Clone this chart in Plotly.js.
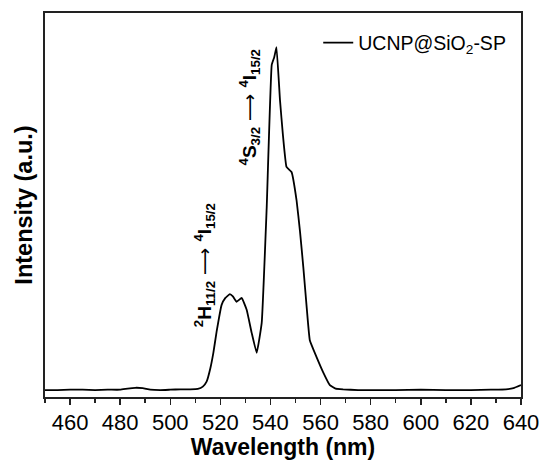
<!DOCTYPE html>
<html>
<head>
<meta charset="utf-8">
<script src="https://cdn.plot.ly/plotly-3.0.1.min.js"></script>
<style>html,body{margin:0;padding:0;background:#fff;}#chart{width:542px;height:460px;}</style>
</head>
<body>
<div id="chart"></div>
<script>
// Wavelength (nm)
const wavelength = [450, 455, 460, 465, 470, 475, 480, 483, 486, 489, 492, 496, 500, 504, 508, 511, 513, 514.5, 516, 517.2, 518.5, 520.5, 522, 523.8, 525, 526.5, 528.5, 530.5, 532.5, 534.5, 536.5, 538.5, 540.5, 541.5, 542.4, 543.8, 545, 546.4, 548.4, 550.4, 551.8, 553.1, 554.5, 555.7, 558.4, 561, 563.7, 566, 569, 575, 580, 590, 600, 610, 620, 628, 634, 637, 640];
// Intensity (a.u.)
const intensity = [0.018, 0.018, 0.019, 0.019, 0.018, 0.019, 0.019, 0.022, 0.024, 0.023, 0.019, 0.018, 0.019, 0.020, 0.020, 0.021, 0.027, 0.040, 0.075, 0.115, 0.170, 0.240, 0.258, 0.268, 0.262, 0.248, 0.258, 0.227, 0.167, 0.115, 0.193, 0.495, 0.865, 0.885, 0.911, 0.773, 0.680, 0.599, 0.586, 0.513, 0.430, 0.339, 0.230, 0.148, 0.104, 0.065, 0.031, 0.022, 0.020, 0.018, 0.018, 0.018, 0.019, 0.018, 0.018, 0.019, 0.020, 0.023, 0.031];
const seriesName = 'UCNP@SiO<sub>2</sub>-SP';
const xTicks = [460, 480, 500, 520, 540, 560, 580, 600, 620, 640];
const ARROW = '<span style="font-family:DejaVu Sans;font-weight:normal"> \u27F6 </span>';
const peakLabels = ['<b><sup>2</sup>H<sub>11/2</sub></b>' + ARROW + '<b><sup>4</sup>I<sub>15/2</sub></b>', '<b><sup>4</sup>S<sub>3/2</sub></b>' + ARROW + '<b><sup>4</sup>I<sub>15/2</sub></b>'];
const peakLabelX = [514.0, 531.6];
const peakLabelY = [0.344, 0.755];

const FONT = 'Liberation Sans, Arial, sans-serif';
const trace = {
  x: wavelength, y: intensity, type: 'scatter', mode: 'lines', name: seriesName,
  line: {color: '#000', width: 1.8, shape: 'spline', smoothing: 0.3}
};
const annotations = peakLabels.map((t, i) => ({
  x: peakLabelX[i], y: peakLabelY[i], xref: 'x', yref: 'y', text: t, showarrow: false,
  textangle: -90, font: {family: FONT, size: 19, color: '#000'}
}));
const layout = {
  width: 542, height: 460,
  margin: {l: 45, r: 21, t: 13, b: 63},
  paper_bgcolor: '#fff', plot_bgcolor: '#fff',
  font: {family: FONT, color: '#000'},
  showlegend: true,
  legend: {x: 0.574, y: 0.922, xanchor: 'left', yanchor: 'middle', bgcolor: 'rgba(0,0,0,0)',
           font: {family: FONT, size: 19.5, color: '#000'}},
  xaxis: {
    range: [450, 640], tickvals: xTicks, ticktext: xTicks.map(String),
    ticks: 'outside', ticklen: 6, tickwidth: 1.5, tickcolor: '#222',
    minor: {dtick: 10, tick0: 450, ticks: 'outside', ticklen: 4, tickwidth: 1.5, tickcolor: '#222'},
    showline: true, linecolor: '#222', linewidth: 1.8, mirror: true,
    showgrid: false, zeroline: false,
    tickfont: {family: FONT, size: 22, color: '#000'},
    ticklabelstandoff: -1,
    title: {text: '<b>Wavelength (nm)</b>', font: {family: FONT, size: 23, color: '#000'}, standoff: 4},
    automargin: false
  },
  yaxis: {
    range: [0, 1], showticklabels: false, ticks: '',
    showline: true, linecolor: '#222', linewidth: 1.8, mirror: true,
    showgrid: false, zeroline: false,
    title: {text: '<b>Intensity (a.u.)</b>', font: {family: FONT, size: 23.5, color: '#000'}, standoff: 4},
    automargin: false
  },
  annotations: annotations
};
Plotly.newPlot('chart', [trace], layout, {displayModeBar: false, staticPlot: true});
</script>
</body>
</html>
